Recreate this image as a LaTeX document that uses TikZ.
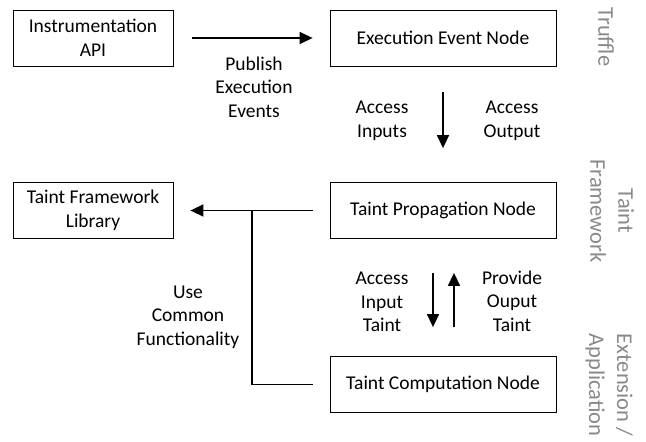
\documentclass[tikz,border=0pt]{standalone}
\usepackage{fontspec}
\setmainfont{Carlito}
\usetikzlibrary{arrows.meta}
\definecolor{sidegray}{RGB}{137,137,137}
\newcommand{\mainfs}{\fontsize{19.5pt}{23.5pt}\selectfont}
\newcommand{\sidefs}{\fontsize{22.5pt}{28pt}\selectfont}
\begin{document}
\begin{tikzpicture}[x=1pt,y=-1pt,
  box/.style={draw, line width=0.8pt, minimum height=56pt, align=center, inner sep=0pt, font=\mainfs},
  lbl/.style={align=center, font=\mainfs, inner sep=0pt},
  side/.style={align=center, rotate=-90, text=sidegray, font=\sidefs, inner sep=0pt},
  conn/.style={line width=1.5pt, -{Triangle[length=13pt,width=12pt]}},
  plain/.style={line width=1.5pt}]
\useasboundingbox (0,0) rectangle (646,442);
% boxes
\node[box, minimum width=160pt] (api) at (93,38) {Instrumentation\\API};
\node[box, minimum width=226pt] (een) at (443,38) {Execution Event Node};
\node[box, minimum width=160pt] (tfl) at (93,210.5) {Taint Framework\\Library};
\node[box, minimum width=226pt] (tpn) at (443,210.5) {Taint Propagation Node};
\node[box, minimum width=226pt] (tcn) at (443,384.5) {Taint Computation Node};
% connectors
\draw[conn, shorten <=19pt, shorten >=17pt] (api.east) -- (een.west);
\draw[conn, shorten <=26pt, shorten >=34pt] (een.south) -- (tpn.north);
\draw[conn, shorten <=34pt, shorten >=29pt] ([xshift=-10pt]tpn.south) -- ([xshift=-10pt]tcn.north);
\draw[conn, shorten <=29pt, shorten >=34pt] ([xshift=11pt]tcn.north) -- ([xshift=11pt]tpn.south);
\draw[conn, shorten <=17pt, shorten >=17pt] (tpn.west) -- (tfl.east);
\coordinate (j) at (252,210.5);
\draw[plain] ([xshift=-17pt]tcn.west) -| (j);
% labels
\node[lbl] (pub) at (254,87) {Publish\\Execution\\Events};
\node[lbl] (ai) at (382,121) {Access\\Inputs};
\node[lbl] (ao) at (512,121) {Access\\Output};
\node[lbl] (ait) at (382,302) {Access\\Input\\Taint};
\node[lbl] (pot) at (512,301) {Provide\\Ouput\\Taint};
\node[lbl] (ucf) at (188,317) {Use\\Common\\Functionality};
% side labels
\node[side] (s1) at (606,37) {Truffle};
\node[side] (s2) at (612,211) {Taint\\Framework};
\node[side] (s3) at (609,385) {Extension /\\Application};
\end{tikzpicture}
\end{document}
